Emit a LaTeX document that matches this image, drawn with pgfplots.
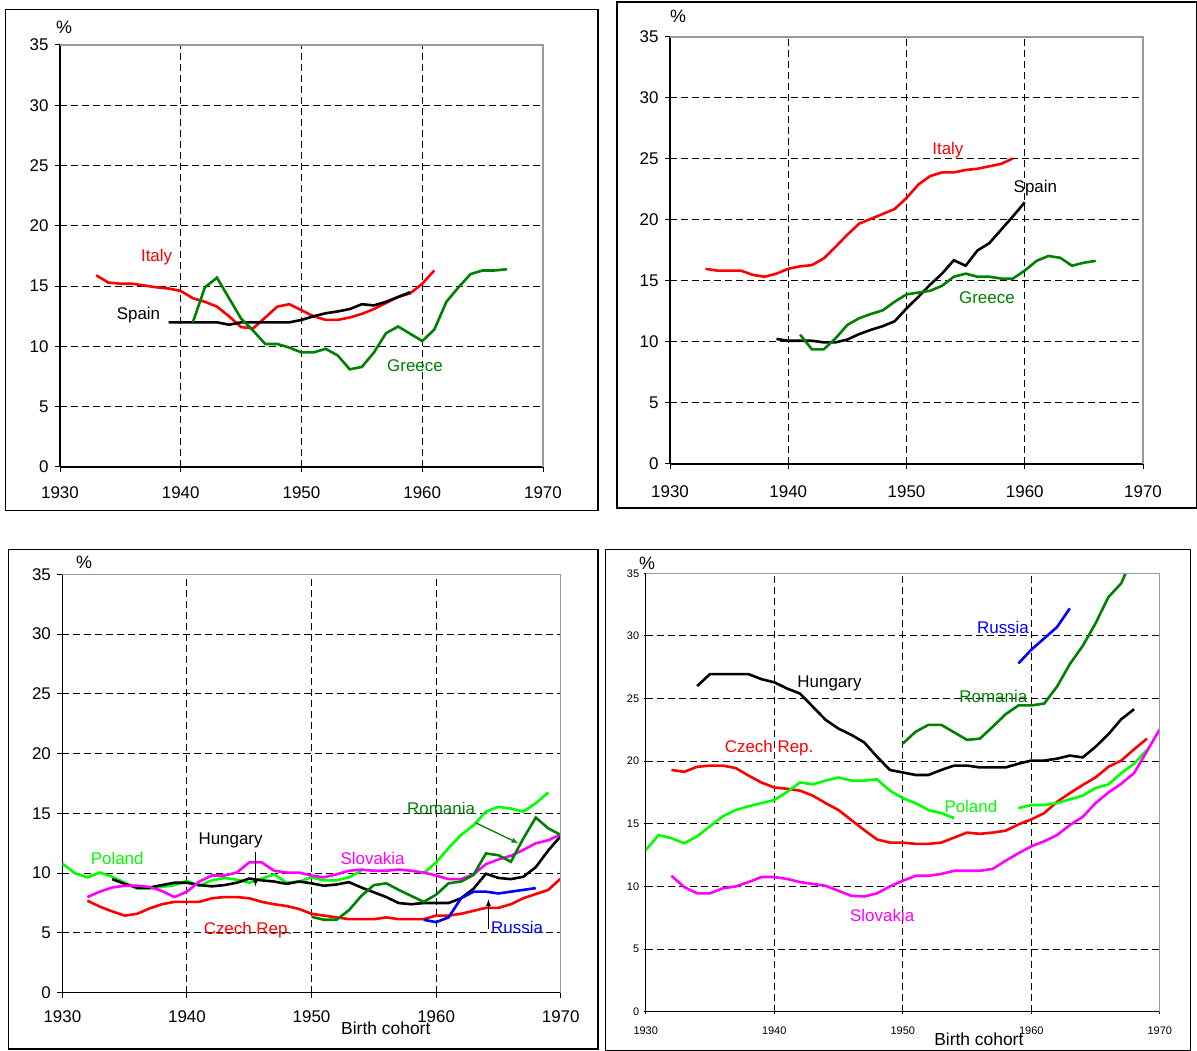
\documentclass[border=0pt]{standalone}
\usepackage{pgfplots}
\pgfplotsset{compat=1.18}
\usepackage{fontspec}
\setmainfont{Liberation Sans}
\definecolor{dgreen}{RGB}{0,128,0}
\definecolor{lgreen}{RGB}{0,255,0}
\definecolor{mag}{RGB}{255,0,255}
\definecolor{bl}{RGB}{0,0,255}
\definecolor{rd}{RGB}{255,0,0}
\newcommand\ff[1]{\fontsize{#1}{#1}\selectfont}
\tikzset{lab/.style={font=\ff{17}, anchor=center, inner sep=0pt}}
\pgfplotsset{
  panel/.style={
    scale only axis, anchor=south west,
    xmin=1930, xmax=1970, ymin=0, ymax=35,
    xtick={1930,1940,...,1970}, ytick={0,5,...,35},
    axis lines=left, axis line style={-, line width=1.3bp, black},
    tick style={black, line width=1bp}, tick align=outside, major tick length=5bp,
    grid=major, major grid style={black, line width=1bp, dash pattern=on 7bp off 4bp},
    /pgf/number format/1000 sep={},
    /pgf/number format/assume math mode=true,
    ticklabel style={font=\ff{17}},
    yticklabel style={xshift=-3bp},
    every axis plot/.append style={line width=2.6bp, no markers},
    after end axis/.code={\draw[gray!80, line width=1.3bp] (rel axis cs:0,1) -- (rel axis cs:1,1) -- (rel axis cs:1,0);},
  },
}
\begin{document}
\begin{tikzpicture}
\path[use as bounding box] (0bp,0bp) rectangle (1197bp,1051bp);
\draw[line width=1.3bp] (5.5bp,540.5bp) rectangle (598bp,1041.5bp);
\draw[line width=1.3bp] (617bp,543bp) rectangle (1196.5bp,1049bp);
\draw[line width=1.3bp] (8.5bp,2bp) rectangle (598bp,501.5bp);
\draw[line width=1.3bp] (605.5bp,0.7bp) rectangle (1190.5bp,501.5bp);

% ---------------- Panel 1 ----------------
\begin{axis}[panel, at={(60bp,584bp)}, width=483bp, height=422bp, xticklabel style={yshift=-11bp}]
\addplot[rd] coordinates {(1933,15.9)(1934,15.3)(1935,15.2)(1936,15.2)(1937,15.05)(1938,14.9)(1939,14.8)(1940,14.6)(1941,14.0)(1942,13.7)(1943,13.3)(1944,12.5)(1945,11.6)(1946,11.5)(1947,12.4)(1948,13.3)(1949,13.5)(1950,13.0)(1951,12.5)(1952,12.2)(1953,12.2)(1954,12.4)(1955,12.7)(1956,13.1)(1957,13.6)(1958,14.1)(1959,14.4)(1960,15.2)(1961,16.3)};
\addplot[black] coordinates {(1939,12.0)(1940,12.0)(1941,12.0)(1942,12.0)(1943,12.0)(1944,11.8)(1945,12.0)(1946,12.0)(1947,12.0)(1948,12.0)(1949,12.0)(1950,12.2)(1951,12.5)(1952,12.75)(1953,12.9)(1954,13.1)(1955,13.5)(1956,13.4)(1957,13.7)(1958,14.1)(1959,14.5)};
\addplot[dgreen] coordinates {(1941,12.0)(1942,14.9)(1943,15.7)(1944,14.0)(1945,12.3)(1946,11.3)(1947,10.2)(1948,10.2)(1949,9.9)(1950,9.5)(1951,9.5)(1952,9.8)(1953,9.25)(1954,8.1)(1955,8.3)(1956,9.5)(1957,11.1)(1958,11.65)(1959,11.05)(1960,10.45)(1961,11.4)(1962,13.7)(1963,14.9)(1964,16.0)(1965,16.3)(1966,16.3)(1967,16.4)};
\node[lab, text=rd] at (axis cs:1938.0,17.4) {Italy};
\node[lab, text=black] at (axis cs:1936.5,12.6) {Spain};
\node[lab, text=dgreen] at (axis cs:1959.4,8.4) {Greece};
\end{axis}
\node[font=\ff{18}, inner sep=0pt] at (64bp,1024bp) {\%};

% ---------------- Panel 2 ----------------
\begin{axis}[panel, at={(670bp,587bp)}, width=473bp, height=427bp, xticklabel style={yshift=-13bp}]
\addplot[rd] coordinates {(1933,16.0)(1934,15.85)(1935,15.85)(1936,15.85)(1937,15.5)(1938,15.35)(1939,15.6)(1940,16.0)(1941,16.2)(1942,16.3)(1943,16.85)(1944,17.8)(1945,18.8)(1946,19.7)(1947,20.1)(1948,20.5)(1949,20.9)(1950,21.8)(1951,22.9)(1952,23.6)(1953,23.9)(1954,23.9)(1955,24.1)(1956,24.2)(1957,24.4)(1958,24.6)(1959,25.05)};
\addplot[black] coordinates {(1939,10.25)(1940,10.1)(1941,10.1)(1942,10.1)(1943,9.97)(1944,9.97)(1945,10.2)(1946,10.65)(1947,11.0)(1948,11.3)(1949,11.7)(1950,12.75)(1951,13.7)(1952,14.7)(1953,15.6)(1954,16.7)(1955,16.25)(1956,17.5)(1957,18.1)(1958,19.2)(1959,20.3)(1960,21.45)};
\addplot[dgreen] coordinates {(1941,10.6)(1942,9.4)(1943,9.4)(1944,10.3)(1945,11.4)(1946,11.95)(1947,12.3)(1948,12.6)(1949,13.3)(1950,13.9)(1951,14.05)(1952,14.2)(1953,14.6)(1954,15.35)(1955,15.6)(1956,15.35)(1957,15.35)(1958,15.2)(1959,15.2)(1960,15.85)(1961,16.65)(1962,17.05)(1963,16.9)(1964,16.25)(1965,16.5)(1966,16.65)};
\node[lab, text=rd] at (axis cs:1953.5,25.7) {Italy};
\node[lab, text=black] at (axis cs:1960.9,22.6) {Spain};
\node[lab, text=dgreen] at (axis cs:1956.8,13.6) {Greece};
\end{axis}
\node[font=\ff{18}, inner sep=0pt] at (678bp,1035bp) {\%};

% ---------------- Panel 3 ----------------
\begin{axis}[panel, at={(62.4bp,58.3bp)}, width=498.3bp, height=418.4bp, xticklabel style={yshift=-9bp},
  xlabel={Birth cohort}, x label style={at={(rel axis cs:0.649,0)}, anchor=center, yshift=-36bp, font=\ff{17.5}}]
\addplot[lgreen] coordinates {(1930,10.8)(1931,10.0)(1932,9.65)(1933,10.05)(1934,9.7)(1935,9.2)(1936,8.7)(1937,8.7)(1938,8.85)(1939,9.0)(1940,9.35)(1941,8.95)(1942,9.4)(1943,9.6)(1944,9.45)(1945,9.2)(1946,9.55)(1947,9.9)(1948,9.2)(1949,9.3)(1950,9.65)(1951,9.4)(1952,9.4)(1953,9.65)(1954,10.2)};
\addplot[lgreen] coordinates {(1959,10.0)(1960,10.9)(1961,12.1)(1962,13.2)(1963,14.0)(1964,15.15)(1965,15.55)(1966,15.4)(1967,15.15)(1968,15.85)(1969,16.75)};
\addplot[black] coordinates {(1934,9.5)(1935,9.1)(1936,8.8)(1937,8.8)(1938,9.0)(1939,9.2)(1940,9.2)(1941,9.0)(1942,8.9)(1943,9.0)(1944,9.2)(1945,9.55)(1946,9.4)(1947,9.3)(1948,9.1)(1949,9.3)(1950,9.15)(1951,8.95)(1952,9.05)(1953,9.25)(1954,8.8)(1955,8.4)(1956,8.0)(1957,7.5)(1958,7.4)(1959,7.5)(1960,7.5)(1961,7.5)(1962,7.9)(1963,8.7)(1964,9.95)(1965,9.6)(1966,9.5)(1967,9.7)(1968,10.5)(1969,11.9)(1970,13.1)};
\addplot[mag] coordinates {(1932,8.0)(1933,8.45)(1934,8.8)(1935,8.95)(1936,8.95)(1937,8.85)(1938,8.5)(1939,8.0)(1940,8.45)(1941,9.3)(1942,9.8)(1943,9.8)(1944,10.05)(1945,10.9)(1946,10.9)(1947,10.2)(1948,10.05)(1949,10.05)(1950,9.8)(1951,9.65)(1952,9.9)(1953,10.2)(1954,10.3)(1955,10.2)(1956,10.2)(1957,10.3)(1958,10.2)(1959,10.05)(1960,9.8)(1961,9.5)(1962,9.5)(1963,9.9)(1964,10.75)(1965,11.15)(1966,11.45)(1967,11.95)(1968,12.5)(1969,12.75)(1970,13.25)};
\addplot[rd] coordinates {(1932,7.7)(1933,7.2)(1934,6.8)(1935,6.45)(1936,6.6)(1937,7.05)(1938,7.4)(1939,7.6)(1940,7.6)(1941,7.6)(1942,7.9)(1943,8.0)(1944,8.0)(1945,7.9)(1946,7.6)(1947,7.4)(1948,7.25)(1949,7.0)(1950,6.6)(1951,6.45)(1952,6.3)(1953,6.15)(1954,6.15)(1955,6.15)(1956,6.3)(1957,6.15)(1958,6.15)(1959,6.15)(1960,6.45)(1961,6.45)(1962,6.6)(1963,6.85)(1964,7.1)(1965,7.1)(1966,7.4)(1967,7.9)(1968,8.25)(1969,8.6)(1970,9.55)};
\addplot[dgreen] coordinates {(1950,6.35)(1951,6.1)(1952,6.1)(1953,6.9)(1954,8.1)(1955,9.0)(1956,9.15)(1957,8.6)(1958,8.1)(1959,7.6)(1960,8.2)(1961,9.15)(1962,9.3)(1963,9.85)(1964,11.65)(1965,11.5)(1966,10.95)(1967,12.9)(1968,14.65)(1969,13.75)(1970,13.2)};
\addplot[bl] coordinates {(1959,6.1)(1960,5.9)(1961,6.3)(1962,7.9)(1963,8.45)(1964,8.45)(1965,8.3)(1966,8.45)(1967,8.6)(1968,8.75)};
\draw[-latex, line width=1.3bp, black] (axis cs:1945.5,11.8) -- (axis cs:1945.5,8.9);
\draw[-latex, line width=1.3bp, dgreen] (axis cs:1963.2,14.2) -- (axis cs:1966.6,12.5);
\draw[-latex, line width=1.3bp, black] (axis cs:1964.2,5.3) -- (axis cs:1964.2,7.8);
\node[lab, text=lgreen] at (axis cs:1934.4,11.2) {Poland};
\node[lab, text=black] at (axis cs:1943.5,12.7) {Hungary};
\node[lab, text=mag] at (axis cs:1954.9,11.2) {Slovakia};
\node[lab, text=dgreen] at (axis cs:1960.4,15.4) {Romania};
\node[lab, text=rd] at (axis cs:1944.9,5.2) {Czech Rep.};
\node[lab, text=bl] at (axis cs:1966.5,5.5) {Russia};
\end{axis}
\node[font=\ff{18}, inner sep=0pt] at (84bp,489bp) {\%};

% ---------------- Panel 4 ----------------
\begin{axis}[panel, at={(645.7bp,39.3bp)}, width=514.1bp, height=438.4bp,
  ticklabel style={font=\ff{11}}, xticklabel style={yshift=-10bp}, yticklabel style={xshift=2bp},
  tick align=center, major tick length=4bp,
  xlabel={Birth cohort}, x label style={at={(rel axis cs:0.648,0)}, anchor=center, yshift=-28bp, font=\ff{17.5}}]
\addplot[black] coordinates {(1934,26.0)(1935,26.95)(1936,26.95)(1937,26.95)(1938,26.95)(1939,26.55)(1940,26.3)(1941,25.8)(1942,25.4)(1943,24.35)(1944,23.3)(1945,22.6)(1946,22.1)(1947,21.5)(1948,20.35)(1949,19.3)(1950,19.1)(1951,18.9)(1952,18.9)(1953,19.3)(1954,19.65)(1955,19.65)(1956,19.5)(1957,19.5)(1958,19.5)(1959,19.8)(1960,20.05)(1961,20.05)(1962,20.2)(1963,20.45)(1964,20.3)(1965,21.15)(1966,22.15)(1967,23.35)(1968,24.15)};
\addplot[dgreen] coordinates {(1950,21.4)(1951,22.35)(1952,22.9)(1953,22.9)(1954,22.3)(1955,21.7)(1956,21.8)(1957,22.75)(1958,23.75)(1959,24.45)(1960,24.45)(1961,24.6)(1962,25.95)(1963,27.75)(1964,29.2)(1965,31.0)(1966,33.1)(1967,34.2)(1968,36.6)};
\addplot[bl] coordinates {(1959,27.8)(1960,28.9)(1961,29.8)(1962,30.7)(1963,32.2)};
\addplot[rd] coordinates {(1932,19.3)(1933,19.15)(1934,19.55)(1935,19.65)(1936,19.65)(1937,19.45)(1938,18.85)(1939,18.3)(1940,17.9)(1941,17.8)(1942,17.65)(1943,17.25)(1944,16.65)(1945,16.1)(1946,15.3)(1947,14.5)(1948,13.75)(1949,13.5)(1950,13.5)(1951,13.4)(1952,13.4)(1953,13.5)(1954,13.9)(1955,14.3)(1956,14.2)(1957,14.3)(1958,14.45)(1959,14.95)(1960,15.35)(1961,15.85)(1962,16.75)(1963,17.45)(1964,18.1)(1965,18.7)(1966,19.55)(1967,20.05)(1968,20.95)(1969,21.8)};
\addplot[lgreen] coordinates {(1930,12.9)(1931,14.1)(1932,13.85)(1933,13.45)(1934,14.0)(1935,14.8)(1936,15.6)(1937,16.1)(1938,16.4)(1939,16.65)(1940,16.9)(1941,17.55)(1942,18.3)(1943,18.15)(1944,18.45)(1945,18.7)(1946,18.45)(1947,18.45)(1948,18.55)(1949,17.65)(1950,17.05)(1951,16.65)(1952,16.1)(1953,15.85)(1954,15.45)};
\addplot[lgreen] coordinates {(1959,16.25)(1960,16.5)(1961,16.5)(1962,16.65)(1963,16.95)(1964,17.25)(1965,17.85)(1966,18.15)(1967,19.05)(1968,19.8)(1969,20.9)};
\addplot[mag] coordinates {(1932,10.85)(1933,9.95)(1934,9.45)(1935,9.45)(1936,9.85)(1937,10.0)(1938,10.35)(1939,10.75)(1940,10.75)(1941,10.6)(1942,10.35)(1943,10.2)(1944,10.05)(1945,9.65)(1946,9.25)(1947,9.2)(1948,9.45)(1949,10.0)(1950,10.45)(1951,10.85)(1952,10.85)(1953,11.0)(1954,11.25)(1955,11.25)(1956,11.25)(1957,11.4)(1958,12.05)(1959,12.65)(1960,13.2)(1961,13.6)(1962,14.1)(1963,14.9)(1964,15.55)(1965,16.65)(1966,17.5)(1967,18.2)(1968,19.05)(1969,20.8)(1970,22.55)};
\node[lab, text=bl] at (axis cs:1957.8,30.7) {Russia};
\node[lab, text=black] at (axis cs:1944.3,26.2) {Hungary};
\node[lab, text=dgreen] at (axis cs:1957.05,25.2) {Romania};
\node[lab, text=rd] at (axis cs:1939.6,21.05) {Czech Rep.};
\node[lab, text=lgreen] at (axis cs:1955.3,16.35) {Poland};
\node[lab, text=mag] at (axis cs:1948.4,7.7) {Slovakia};
\end{axis}
\node[font=\ff{18}, inner sep=0pt] at (647bp,488bp) {\%};
\end{tikzpicture}
\end{document}
